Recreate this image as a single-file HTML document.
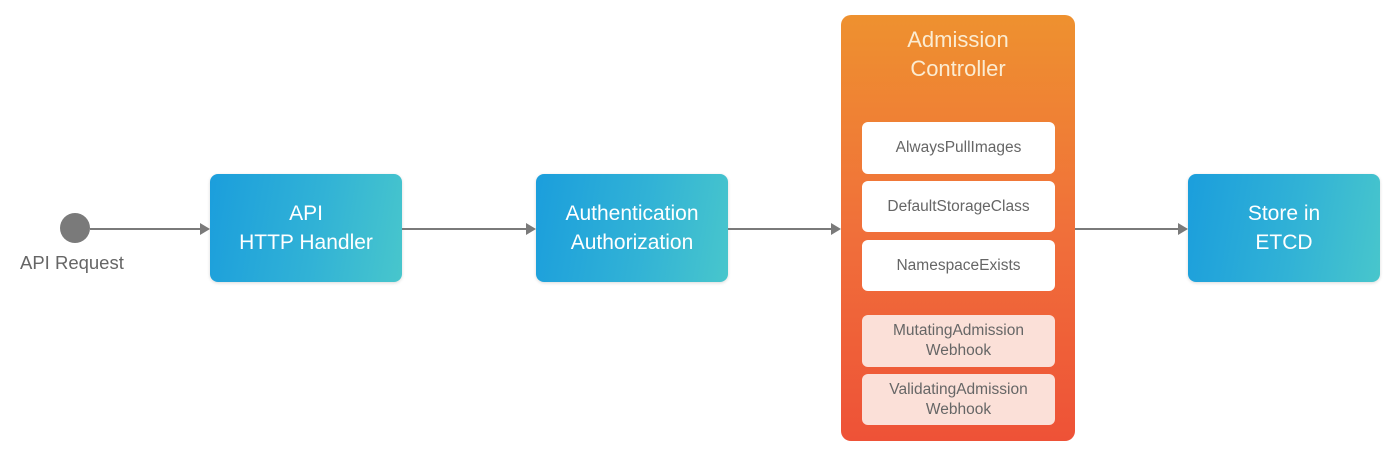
<!DOCTYPE html>
<html><head><style>
body{margin:0;width:1399px;height:457px;background:#fff;position:relative;overflow:hidden;font-family:"Liberation Sans","DejaVu Sans",sans-serif}
.b{position:absolute;border-radius:8px;background:linear-gradient(100deg,#1b9edc 0%,#31b2d6 55%,#48c6cc 100%);color:#fff;font-size:21px;line-height:29px;display:flex;align-items:center;justify-content:center;text-align:center;box-shadow:0 1px 3px rgba(0,0,0,.15)}
.ac{position:absolute;left:841px;top:15px;width:234px;height:426px;border-radius:10px;background:linear-gradient(180deg,#ee912f 0%,#f0703a 50%,#ee5237 100%)}
.t{position:absolute;left:0;width:100%;top:10px;text-align:center;color:#fbecd2;font-size:22px;line-height:29px}
.i{position:absolute;left:21px;width:193px;border-radius:6px;background:#fff;color:#666;font-size:15.5px;line-height:20px;display:flex;align-items:center;justify-content:center;text-align:center}
.p{background:#fbe0d8}
.l{position:absolute;height:2px;background:#7a7a7a;top:228px}
.a{position:absolute;top:223px;width:0;height:0;border-top:6px solid transparent;border-bottom:6px solid transparent;border-left:10px solid #7a7a7a}
</style></head><body>
<div style="position:absolute;left:60px;top:213px;width:30px;height:30px;border-radius:50%;background:#7a7a7a"></div>
<div style="position:absolute;left:20px;top:252px;font-size:18.5px;color:#666">API Request</div>
<div class="l" style="left:90px;width:112px"></div><div class="a" style="left:200px"></div>
<div class="b" style="left:210px;top:174px;width:192px;height:108px">API<br>HTTP Handler</div>
<div class="l" style="left:402px;width:126px"></div><div class="a" style="left:526px"></div>
<div class="b" style="left:536px;top:174px;width:192px;height:108px">Authentication<br>Authorization</div>
<div class="l" style="left:728px;width:105px"></div><div class="a" style="left:831px"></div>
<div class="ac">
<div class="t">Admission<br>Controller</div>
<div class="i" style="top:107px;height:52px">AlwaysPullImages</div>
<div class="i" style="top:166px;height:51px">DefaultStorageClass</div>
<div class="i" style="top:225px;height:51px">NamespaceExists</div>
<div class="i p" style="top:300px;height:52px">MutatingAdmission<br>Webhook</div>
<div class="i p" style="top:359px;height:51px">ValidatingAdmission<br>Webhook</div>
</div>
<div class="l" style="left:1075px;width:105px"></div><div class="a" style="left:1178px"></div>
<div class="b" style="left:1188px;top:174px;width:192px;height:108px">Store in<br>ETCD</div>
</body></html>
